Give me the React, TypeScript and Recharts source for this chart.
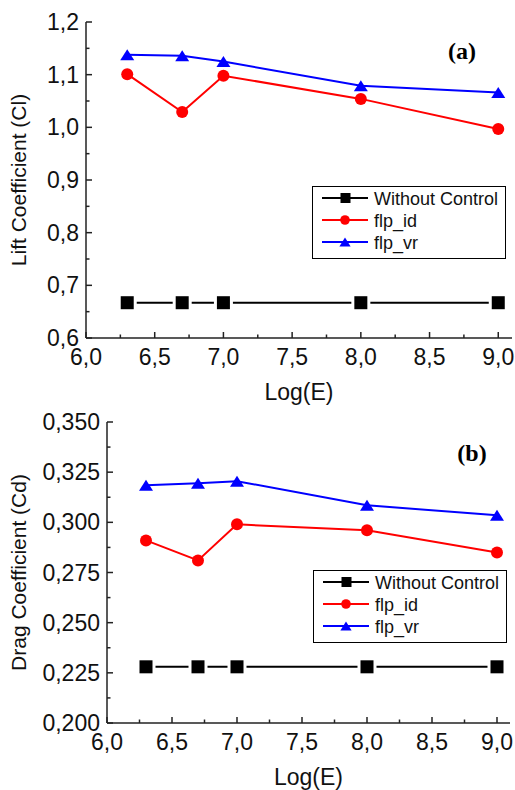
import React from "react";
import { LineChart, Line, XAxis, YAxis, Legend } from "recharts";

// Log(E) positions of the runs
const logE = [6.3, 6.7, 7.0, 8.0, 9.0];

// (a) lift coefficient
const liftNoControl = [0.667, 0.667, 0.667, 0.667, 0.667];
const liftFlpId = [1.101, 1.029, 1.098, 1.054, 0.997];
const liftFlpVr = [1.138, 1.136, 1.125, 1.079, 1.066];

// (b) drag coefficient
const dragNoControl = [0.228, 0.228, 0.228, 0.228, 0.228];
const dragFlpId = [0.291, 0.281, 0.299, 0.296, 0.285];
const dragFlpVr = [0.3185, 0.3195, 0.3205, 0.3085, 0.3035];

const seriesNames = ["Without Control", "flp_id", "flp_vr"];

const xTicks = [6, 6.25, 6.5, 6.75, 7, 7.25, 7.5, 7.75, 8, 8.25, 8.5, 8.75, 9];
const liftTicks = [0.6, 0.65, 0.7, 0.75, 0.8, 0.85, 0.9, 0.95, 1.0, 1.05, 1.1, 1.15, 1.2];
const dragTicks = [0.2, 0.2125, 0.225, 0.2375, 0.25, 0.2625, 0.275, 0.2875, 0.3, 0.3125, 0.325, 0.3375, 0.35];

const FONT = "'Liberation Sans', Arial, sans-serif";
const AXIS = "#222";

const toRows = (a: number[], b: number[], c: number[]) =>
  logE.map((x, i) => ({ x, none: a[i], id: b[i], vr: c[i] }));

const liftRows = toRows(liftNoControl, liftFlpId, liftFlpVr);
const dragRows = toRows(dragNoControl, dragFlpId, dragFlpVr);

const comma = (v: number, d: number) => v.toFixed(d).replace(".", ",");

// inward ticks, major ones labelled
const makeTick = (side: string, step: number, digits: number) => (props: any) => {
  const { x, y, payload } = props;
  const v = payload.value;
  const major = Math.abs(v / step - Math.round(v / step)) < 1e-6;
  const len = major ? 6 : 3.5;
  if (side === "bottom") {
    return (
      <g>
        <line x1={x} x2={x} y1={y} y2={y - len} stroke={AXIS} strokeWidth={1.5} />
        {major && (
          <text x={x} y={y + 27} textAnchor="middle" fontSize={23} fontFamily={FONT} fill="#111">
            {comma(v, digits)}
          </text>
        )}
      </g>
    );
  }
  if (side === "top") {
    return <line x1={x} x2={x} y1={y} y2={y + len} stroke={AXIS} strokeWidth={1.5} />;
  }
  if (side === "left") {
    return (
      <g>
        <line x1={x} x2={x + len} y1={y} y2={y} stroke={AXIS} strokeWidth={1.5} />
        {major && (
          <text x={x - 7} y={y + 8} textAnchor="end" fontSize={23} fontFamily={FONT} fill="#111">
            {comma(v, digits)}
          </text>
        )}
      </g>
    );
  }
  return <line x1={x} x2={x - len} y1={y} y2={y} stroke={AXIS} strokeWidth={1.5} />;
};

const SquareDot = (p: any) => {
  const { cx, cy, s = 1 } = p;
  if (cx == null || cy == null) return null;
  return (
    <g key={p.key}>
      <rect x={cx - 9.5 * s} y={cy - 9.5 * s} width={19 * s} height={19 * s} fill="#fff" />
      <rect x={cx - 6.5 * s} y={cy - 6.5 * s} width={13 * s} height={13 * s} fill="#000" />
    </g>
  );
};

const CircleDot = (p: any) => {
  const { cx, cy, s = 1 } = p;
  if (cx == null || cy == null) return null;
  return <circle key={p.key} cx={cx} cy={cy} r={6 * s} fill="#ff0000" />;
};

const TriangleDot = (p: any) => {
  const { cx, cy, s = 1 } = p;
  if (cx == null || cy == null) return null;
  const w = 7 * s;
  const h = 5.5 * s;
  return (
    <polygon
      key={p.key}
      points={`${cx},${cy - h} ${cx + w},${cy + h} ${cx - w},${cy + h}`}
      fill="#0000ff"
    />
  );
};

const markers: Record<string, any> = { none: SquareDot, id: CircleDot, vr: TriangleDot };

const LegendBox = ({ payload }: any) => (
  <svg width={194} height={73} style={{ display: "block" }}>
    <rect x={0.5} y={0.5} width={193} height={72} fill="#fff" stroke="#000" strokeWidth={1} />
    {(payload || []).map((entry: any, i: number) => {
      const y = 12 + 22 * i;
      const Marker = markers[entry.dataKey];
      return (
        <g key={entry.value}>
          <line x1={10} x2={56} y1={y} y2={y} stroke={entry.color} strokeWidth={2} />
          {entry.dataKey === "none" ? (
            <rect x={28.5} y={y - 5} width={10} height={10} fill="#000" />
          ) : (
            <Marker cx={33} cy={y} s={0.8} />
          )}
          <text x={62} y={y + 6.5} fontSize={18} fontFamily={FONT} fill="#111">
            {entry.value}
          </text>
        </g>
      );
    })}
  </svg>
);

const XTitle = ({ viewBox }: any) => (
  <text
    x={viewBox.x + viewBox.width / 2}
    y={viewBox.y + 62}
    textAnchor="middle"
    fontSize={23}
    fontFamily={FONT}
    fill="#111"
  >
    Log(E)
  </text>
);

const yTitle = (label: string) => ({ viewBox }: any) => {
  const cy = viewBox.y + viewBox.height / 2;
  return (
    <text
      x={26}
      y={cy}
      transform={`rotate(-90 26 ${cy})`}
      textAnchor="middle"
      fontSize={21}
      fontFamily={FONT}
      fill="#111"
    >
      {label}
    </text>
  );
};

type PanelProps = {
  rows: any[];
  width: number;
  height: number;
  left: number;
  right: number;
  bottom: number;
  yDomain: [number, number];
  yTicks: number[];
  yStep: number;
  yDigits: number;
  yLabel: string;
  legendPos: { left: number; top: number };
};

const Panel = (p: PanelProps) => (
  <LineChart
    width={p.width}
    height={p.height}
    data={p.rows}
    margin={{ top: 22, right: p.right, left: 0, bottom: 0 }}
    style={{ fontFamily: FONT }}
  >
    <XAxis
      dataKey="x"
      type="number"
      domain={[6, 9.1]}
      allowDataOverflow
      ticks={xTicks}
      interval={0}
      tickSize={0}
      tickMargin={0}
      tickLine={false}
      height={p.bottom}
      axisLine={{ stroke: AXIS, strokeWidth: 1.5 }}
      tick={makeTick("bottom", 0.5, 1)}
      label={{ content: XTitle }}
    />
    <XAxis
      xAxisId="top"
      orientation="top"
      type="number"
      domain={[6, 9.1]}
      allowDataOverflow
      ticks={xTicks}
      interval={0}
      tickSize={0}
      tickMargin={0}
      tickLine={false}
      height={0}
      axisLine={{ stroke: AXIS, strokeWidth: 1.5 }}
      tick={makeTick("top", 0.5, 1)}
    />
    <YAxis
      type="number"
      domain={p.yDomain}
      allowDataOverflow
      ticks={p.yTicks}
      interval={0}
      tickSize={0}
      tickMargin={0}
      tickLine={false}
      width={p.left}
      axisLine={{ stroke: AXIS, strokeWidth: 1.5 }}
      tick={makeTick("left", p.yStep, p.yDigits)}
      label={{ content: yTitle(p.yLabel) }}
    />
    <YAxis
      yAxisId="right"
      orientation="right"
      type="number"
      domain={p.yDomain}
      allowDataOverflow
      ticks={p.yTicks}
      interval={0}
      tickSize={0}
      tickMargin={0}
      tickLine={false}
      width={0}
      axisLine={{ stroke: AXIS, strokeWidth: 1.5 }}
      tick={makeTick("right", p.yStep, p.yDigits)}
    />
    <Legend
      content={LegendBox}
      layout="horizontal"
      verticalAlign="middle"
      align="center"
      wrapperStyle={{ left: p.legendPos.left, top: p.legendPos.top, width: 194, height: 73 }}
    />
    <Line
      dataKey="none"
      name={seriesNames[0]}
      stroke="#000"
      strokeWidth={2}
      dot={SquareDot}
      activeDot={false}
      isAnimationActive={false}
    />
    <Line
      dataKey="id"
      name={seriesNames[1]}
      stroke="#ff0000"
      strokeWidth={2}
      dot={CircleDot}
      activeDot={false}
      isAnimationActive={false}
    />
    <Line
      dataKey="vr"
      name={seriesNames[2]}
      stroke="#0000ff"
      strokeWidth={2}
      dot={TriangleDot}
      activeDot={false}
      isAnimationActive={false}
    />
  </LineChart>
);

export default function App() {
  return (
    <div style={{ position: "absolute", left: 0, top: 0, width: 515, height: 790, background: "#fff" }}>
      <div style={{ position: "absolute", left: 0, top: 0 }}>
        <Panel
          rows={liftRows}
          width={515}
          height={420}
          left={86}
          right={3}
          bottom={82}
          yDomain={[0.6, 1.2]}
          yTicks={liftTicks}
          yStep={0.1}
          yDigits={1}
          yLabel="Lift Coefficient (Cl)"
          legendPos={{ left: 312, top: 186 }}
        />
      </div>
      <div style={{ position: "absolute", left: 0, top: 400 }}>
        <Panel
          rows={dragRows}
          width={515}
          height={390}
          left={107}
          right={5}
          bottom={67}
          yDomain={[0.2, 0.35]}
          yTicks={dragTicks}
          yStep={0.025}
          yDigits={3}
          yLabel="Drag Coefficient (Cd)"
          legendPos={{ left: 313, top: 170 }}
        />
      </div>
      <svg
        width={515}
        height={790}
        style={{ position: "absolute", left: 0, top: 0, pointerEvents: "none" }}
      >
        <text x={462} y={59} textAnchor="middle" fontSize={24} fontWeight="bold" fontFamily="'Liberation Serif', 'Times New Roman', serif">
          (a)
        </text>
        <text x={472} y={461} textAnchor="middle" fontSize={24} fontWeight="bold" fontFamily="'Liberation Serif', 'Times New Roman', serif">
          (b)
        </text>
      </svg>
    </div>
  );
}
